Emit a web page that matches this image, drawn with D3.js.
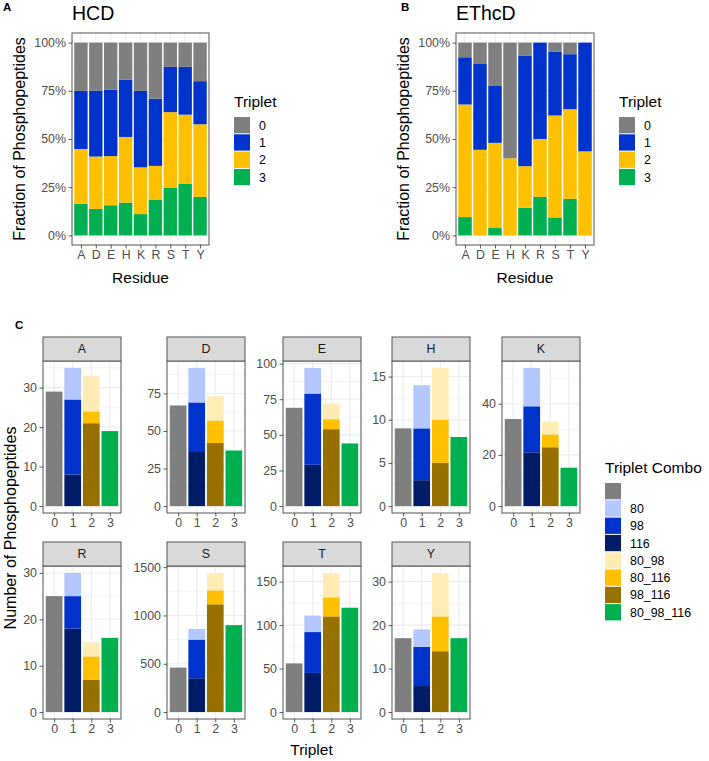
<!DOCTYPE html>
<html>
<head>
<meta charset="utf-8">
<script src="https://cdnjs.cloudflare.com/ajax/libs/d3/7.8.5/d3.min.js"></script>
<style>
  body { margin: 0; background: #fff; }
  svg text { font-family: "Liberation Sans", Arial, sans-serif; }
</style>
</head>
<body>
<div id="main_div" style="width:709px;height:761px;"></div>
<script>
/** Global data **/
const residues = ["A", "D", "E", "H", "K", "R", "S", "T", "Y"];
const triplets = ["0", "1", "2", "3"];
const tripletColors = ["#7f7f7f", "#0033cc", "#ffc000", "#00b050"];

const combos = ["", "80", "98", "116", "80_98", "80_116", "98_116", "80_98_116"];
const comboTriplet = ["0", "1", "1", "1", "2", "2", "2", "3"];
const comboColors = ["#7f7f7f", "#b4c7ff", "#0033cc", "#001c66", "#ffebb4", "#ffc000", "#967100", "#00b050"];

// HCD counts per triplet combo, one value per residue (A D E H K R S T Y)
const cnt_none      = [29, 67, 69,  9, 34, 25,  460,  56, 17];
const cnt_80        = [ 8, 23, 18,  5, 15,  5,  110,  19,  4];
const cnt_98        = [19, 33, 50,  6, 18,  7,  400,  47,  9];
const cnt_116       = [ 8, 36, 29,  3, 21, 18,  350,  45,  6];
const cnt_80_98     = [ 9, 16, 11,  6,  5,  3,  180,  28, 10];
const cnt_80_116    = [ 3, 15,  7,  5,  5,  5,  145,  22,  8];
const cnt_98_116    = [21, 42, 54,  5, 23,  7, 1115, 110, 14];
const cnt_80_98_116 = [19, 37, 44,  8, 15, 16,  900, 120, 17];
const comboCounts = [cnt_none, cnt_80, cnt_98, cnt_116, cnt_80_98, cnt_80_116, cnt_98_116, cnt_80_98_116];

// EThcD fraction of phosphopeptides per triplet
const ethcd_t0 = [0.076, 0.111, 0.222, 0.600, 0.069, 0.000, 0.048, 0.060, 0.000];
const ethcd_t1 = [0.245, 0.445, 0.298, 0.000, 0.572, 0.500, 0.330, 0.285, 0.564];
const ethcd_t2 = [0.584, 0.444, 0.442, 0.400, 0.216, 0.300, 0.529, 0.465, 0.436];
const ethcd_t3 = [0.095, 0.000, 0.038, 0.000, 0.143, 0.200, 0.093, 0.190, 0.000];

const fracTicks = [0, 0.25, 0.5, 0.75, 1];
const facetTicks = [[0, 10, 20, 30], [0, 25, 50, 75], [0, 25, 50, 75, 100], [0, 5, 10, 15], [0, 20, 40],
                    [0, 10, 20, 30], [0, 500, 1000, 1500], [0, 50, 100, 150], [0, 10, 20, 30]];

const tickColor = "#4d4d4d";
const borderColor = "#555555";
const gridColor = "#ebebeb";
const baseSize = 15.5;
const tickSize = 12.4;

render();

function render() {
    createSVG();
    drawFractionPanels();
    drawFacets();
    drawLabels();
}

function createSVG() {
    d3.select("#main_div")
        .append("svg")
        .attr("width", 709)
        .attr("height", 761)
        .attr("id", "main_svg");
}

/** minor breaks the ggplot way: midpoints of major breaks, inside the limits */
function minorBreaks(ticks, domain) {
    let step = ticks[1] - ticks[0];
    let out = [];
    for (let t = ticks[0] - step; t <= ticks[ticks.length - 1] + step; t += step) {
        let m = t + step / 2;
        if (m > domain[0] && m < domain[1]) out.push(m);
    }
    return out;
}

function styleAxis(axisG) {
    axisG.select(".domain").remove();
    axisG.selectAll("line").attr("stroke", "#333").attr("stroke-width", 0.8);
    axisG.selectAll("text")
        .attr("fill", tickColor)
        .style("font-size", tickSize + "px")
        .style("font-family", '"Liberation Sans", Arial, sans-serif');
}

function drawPanel(box, xScale, yScale, yTicks) {
    let svg = d3.select("#main_svg");
    let g = svg.append("g");
    g.append("rect")
        .attr("x", box.left).attr("y", box.top)
        .attr("width", box.right - box.left).attr("height", box.bottom - box.top)
        .attr("fill", "#fff");
    // grid
    minorBreaks(yTicks, yScale.domain()).forEach(function (m) {
        g.append("line")
            .attr("x1", box.left).attr("x2", box.right)
            .attr("y1", yScale(m)).attr("y2", yScale(m))
            .attr("stroke", gridColor).attr("stroke-width", 0.6);
    });
    yTicks.forEach(function (t) {
        g.append("line")
            .attr("x1", box.left).attr("x2", box.right)
            .attr("y1", yScale(t)).attr("y2", yScale(t))
            .attr("stroke", gridColor).attr("stroke-width", 1.1);
    });
    xScale.domain().forEach(function (c) {
        g.append("line")
            .attr("x1", xScale(c)).attr("x2", xScale(c))
            .attr("y1", box.top).attr("y2", box.bottom)
            .attr("stroke", gridColor).attr("stroke-width", 1.1);
    });
    return g;
}

function drawBorder(box) {
    d3.select("#main_svg").append("rect")
        .attr("x", box.left).attr("y", box.top)
        .attr("width", box.right - box.left).attr("height", box.bottom - box.top)
        .attr("fill", "none")
        .attr("stroke", borderColor)
        .attr("stroke-width", 1);
}

function drawFractionPanels() {
    /** HCD fractions come from the panel C counts */
    let hcdRows = residues.map(function (r, i) {
        let row = { residue: r };
        let total = 0;
        triplets.forEach(function (t) { row[t] = 0; });
        combos.forEach(function (c, ci) {
            row[comboTriplet[ci]] += comboCounts[ci][i];
            total += comboCounts[ci][i];
        });
        triplets.forEach(function (t) { row[t] = row[t] / total; });
        return row;
    });
    let ethcdRows = residues.map(function (r, i) {
        return { residue: r, "0": ethcd_t0[i], "1": ethcd_t1[i], "2": ethcd_t2[i], "3": ethcd_t3[i] };
    });

    drawFraction(hcdRows, { left: 72, right: 209, top: 33, bottom: 245 }, "HCD", 25);
    drawFraction(ethcdRows, { left: 456, right: 594, top: 33, bottom: 245 }, "EThcD", 409);
}

function drawFraction(rows, box, title, yTitleX) {
    let svg = d3.select("#main_svg");
    let xScale = d3.scalePoint().domain(residues).range([box.left, box.right]).padding(0.6);
    let yScale = d3.scaleLinear().domain([-0.05, 1.05]).range([box.bottom, box.top]);
    let bw = xScale.step() * 0.9;

    let g = drawPanel(box, xScale, yScale, fracTicks);

    let stack = d3.stack().keys(["3", "2", "1", "0"]);
    let series = stack(rows);
    series.forEach(function (s) {
        g.append("g")
            .attr("fill", tripletColors[+s.key])
            .selectAll("rect")
            .data(s)
            .enter()
            .append("rect")
            .attr("x", function (d) { return xScale(d.data.residue) - bw / 2; })
            .attr("width", bw)
            .attr("y", function (d) { return yScale(d[1]); })
            .attr("height", function (d) { return yScale(d[0]) - yScale(d[1]); });
    });
    drawBorder(box);

    let yAxis = d3.axisLeft(yScale).tickValues(fracTicks).tickFormat(d3.format(".0%")).tickSize(3.5).tickPadding(2.5);
    let xAxis = d3.axisBottom(xScale).tickSize(3.5).tickPadding(2);
    let yg = svg.append("g").attr("transform", "translate(" + box.left + ",0)").call(yAxis);
    let xg = svg.append("g").attr("transform", "translate(0," + box.bottom + ")").call(xAxis);
    styleAxis(yg);
    styleAxis(xg);

    svg.append("text")
        .text("Residue")
        .attr("x", (box.left + box.right) / 2)
        .attr("y", 283)
        .attr("text-anchor", "middle")
        .style("font-size", baseSize + "px");

    svg.append("text")
        .text("Fraction of Phosphopeptides")
        .attr("transform", "translate(" + yTitleX + "," + (box.top + box.bottom) / 2 + ") rotate(-90)")
        .attr("text-anchor", "middle")
        .style("font-size", "16px");

    svg.append("text")
        .text(title)
        .attr("x", box.left)
        .attr("y", 20)
        .style("font-size", "19.5px");

    drawLegend(box.right + 25, 107, "Triplet", triplets, tripletColors);
}

function drawLegend(x, titleY, title, labels, colors) {
    let svg = d3.select("#main_svg");
    let lg = svg.append("g");
    lg.append("text")
        .text(title)
        .attr("x", x)
        .attr("y", titleY)
        .style("font-size", baseSize + "px");
    let keyStep = 17.3;
    let top = titleY + 9.5;
    labels.forEach(function (l, i) {
        lg.append("rect")
            .attr("x", x)
            .attr("y", top + i * keyStep + 0.5)
            .attr("width", 16)
            .attr("height", keyStep - 1)
            .attr("fill", colors[i]);
        lg.append("text")
            .text(l)
            .attr("x", x + 25)
            .attr("y", top + i * keyStep + keyStep / 2)
            .attr("dy", "0.36em")
            .style("font-size", tickSize + "px");
    });
}

function drawFacets() {
    let svg = d3.select("#main_svg");
    const colLeft = [43, 167, 283, 392, 502];
    const panelW = 78;
    const rowBox = [{ strip: 337, top: 361, bottom: 513 }, { strip: 542, top: 566, bottom: 719 }];

    residues.forEach(function (res, ri) {
        let col = ri % 5, row = Math.floor(ri / 5);
        let box = { left: colLeft[col], right: colLeft[col] + panelW, top: rowBox[row].top, bottom: rowBox[row].bottom };

        // one stacked row per triplet
        let rows = triplets.map(function (t) {
            let o = { triplet: t, total: 0 };
            combos.forEach(function (c, ci) {
                o[c] = comboTriplet[ci] === t ? comboCounts[ci][ri] : 0;
                o.total += o[c];
            });
            return o;
        });
        let maxVal = d3.max(rows, function (d) { return d.total; });

        let xScale = d3.scalePoint().domain(triplets).range([box.left, box.right]).padding(0.6);
        let yScale = d3.scaleLinear().domain([-0.05 * maxVal, 1.05 * maxVal]).range([box.bottom, box.top]);
        let bw = xScale.step() * 0.9;

        let g = drawPanel(box, xScale, yScale, facetTicks[ri]);

        let stack = d3.stack().keys(combos.slice().reverse());
        stack(rows).forEach(function (s) {
            g.append("g")
                .attr("fill", comboColors[combos.indexOf(s.key)])
                .selectAll("rect")
                .data(s.filter(function (d) { return d[1] > d[0]; }))
                .enter()
                .append("rect")
                .attr("x", function (d) { return xScale(d.data.triplet) - bw / 2; })
                .attr("width", bw)
                .attr("y", function (d) { return yScale(d[1]); })
                .attr("height", function (d) { return yScale(d[0]) - yScale(d[1]); });
        });
        drawBorder(box);

        // strip
        svg.append("rect")
            .attr("x", box.left).attr("y", rowBox[row].strip)
            .attr("width", panelW).attr("height", box.top - rowBox[row].strip)
            .attr("fill", "#d9d9d9")
            .attr("stroke", borderColor).attr("stroke-width", 1);
        svg.append("text")
            .text(res)
            .attr("x", box.left + panelW / 2)
            .attr("y", (rowBox[row].strip + box.top) / 2)
            .attr("dy", "0.36em")
            .attr("text-anchor", "middle")
            .attr("fill", "#1a1a1a")
            .style("font-size", tickSize + "px");

        let yAxis = d3.axisLeft(yScale).tickValues(facetTicks[ri]).tickFormat(d3.format("d")).tickSize(3.5).tickPadding(2.5);
        let xAxis = d3.axisBottom(xScale).tickSize(3.5).tickPadding(2);
        styleAxis(svg.append("g").attr("transform", "translate(" + box.left + ",0)").call(yAxis));
        styleAxis(svg.append("g").attr("transform", "translate(0," + box.bottom + ")").call(xAxis));
    });

    svg.append("text")
        .text("Triplet")
        .attr("x", (colLeft[0] + colLeft[4] + panelW) / 2)
        .attr("y", 755)
        .attr("text-anchor", "middle")
        .style("font-size", baseSize + "px");

    svg.append("text")
        .text("Number of Phosphopeptides")
        .attr("transform", "translate(16,528) rotate(-90)")
        .attr("text-anchor", "middle")
        .style("font-size", "16px");

    drawLegend(605, 473, "Triplet Combo", combos, comboColors);
}

function drawLabels() {
    let svg = d3.select("#main_svg");
    [["A", 3, 11], ["B", 401, 11], ["C", 15, 329]].forEach(function (l) {
        svg.append("text")
            .text(l[0])
            .attr("x", l[1])
            .attr("y", l[2])
            .style("font-size", "11.5px")
            .style("font-weight", "bold");
    });
}
</script>
</body>
</html>
